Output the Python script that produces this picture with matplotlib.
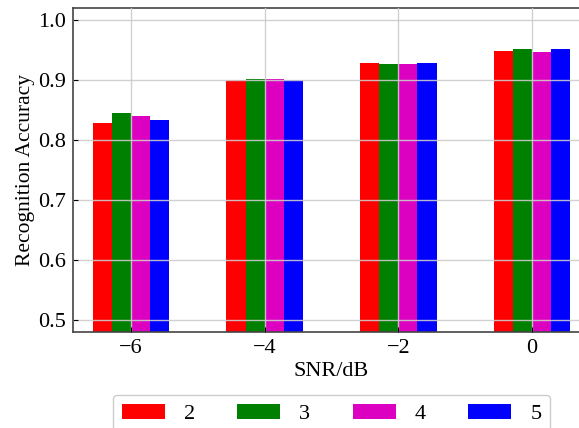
import numpy as np
import matplotlib
matplotlib.use('Agg')
import matplotlib.pyplot as plt

# SNR levels and recognition accuracy per setting
snr = ['\u22126', '\u22124', '\u22122', '0']
series = ['2', '3', '4', '5']
acc_2 = [0.829, 0.8995, 0.928, 0.949]
acc_3 = [0.8445, 0.902, 0.927, 0.952]
acc_4 = [0.8405, 0.902, 0.926, 0.947]
acc_5 = [0.834, 0.8995, 0.928, 0.952]
colors = ['#ff0000', '#008000', '#dc00c0', '#0000ff']

plt.rcParams['font.family'] = ['Liberation Serif', 'DejaVu Serif']
plt.rcParams['font.size'] = 16

fig = plt.figure(figsize=(5.79, 4.28), dpi=100)
ax = fig.add_axes([73 / 579, 1 - 332 / 428, (590 - 73) / 579, (332 - 8) / 428])

x = np.arange(len(snr))
w = 1 / 7
for i, vals in enumerate([acc_2, acc_3, acc_4, acc_5]):
    ax.bar(x + (i - 2) * w, vals, width=w, align='edge', color=colors[i],
           label=series[i], linewidth=0)

ax.set_xlim(-0.433, 3.433)
ax.set_ylim(0.48, 1.02)
ax.set_xticks(x)
ax.set_xticklabels(snr)
ax.set_yticks([0.5, 0.6, 0.7, 0.8, 0.9, 1.0])
ax.tick_params(direction='in', labelsize=16, pad=5)
ax.set_axisbelow(False)
ax.grid(True, color='#cccccc', linewidth=1, alpha=0.9)
for s in ax.spines.values():
    s.set_color('#444444')
    s.set_linewidth(1.2)
ax.spines['right'].set_visible(False)

ax.set_xlabel('SNR/dB', fontsize=16, labelpad=3)
ax.set_ylabel('Recognition Accuracy', fontsize=15.5, labelpad=2)

fig.legend(loc='upper center', bbox_to_anchor=(331.5 / 579, 1 - 394.7 / 428),
           bbox_transform=fig.transFigure, ncol=4, borderaxespad=0,
           handlelength=1.95, handleheight=0.7, handletextpad=0.85,
           columnspacing=1.9, fontsize=16, frameon=True, fancybox=True,
           edgecolor='#cccccc', framealpha=1)

fig.savefig('out.png', dpi=100)
